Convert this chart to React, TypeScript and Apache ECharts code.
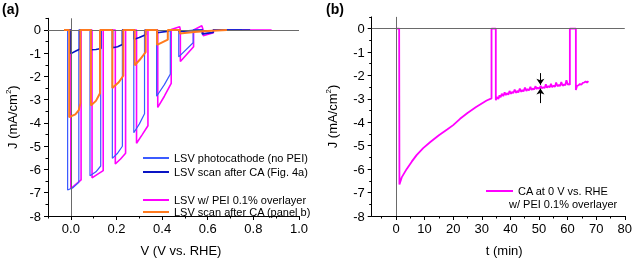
import React, { useEffect, useRef } from "react";
import * as echarts from "echarts";

// ---------- Panel (a): chopped LSV, [V vs RHE, J mA/cm2] ----------
const lsvNoPei: [number, number][] = [
  [-0.03, 0], [-0.014, 0], [-0.014, -6.88], [0.01, -6.78], [0.035, -6.55], [0.035, 0],
  [0.084, 0], [0.084, -6.27], [0.11, -6.1], [0.131, -5.85], [0.131, 0],
  [0.182, 0], [0.182, -5.52], [0.205, -5.3], [0.226, -5.0], [0.226, 0],
  [0.276, 0], [0.276, -4.42], [0.3, -4.05], [0.323, -3.6], [0.323, 0],
  [0.376, 0], [0.376, -2.85], [0.41, -2.35], [0.436, -1.9], [0.436, 0],
  [0.473, 0], [0.473, -1.16], [0.536, -0.55], [0.536, 0],
  [0.575, 0], [0.575, -0.18], [0.624, -0.1], [0.624, 0],
  [0.75, 0],
];
const lsvAfterCa4a: [number, number][] = [
  [-0.03, 0], [0.0, 0], [0.0, -1.02], [0.02, -0.92], [0.04, -0.82], [0.04, 0],
  [0.088, 0], [0.088, -0.85], [0.11, -0.84], [0.132, -0.8], [0.132, 0],
  [0.183, 0], [0.183, -0.77], [0.205, -0.72], [0.226, -0.63], [0.226, 0],
  [0.278, 0], [0.278, -0.4], [0.3, -0.33], [0.328, -0.21], [0.328, 0],
  [0.378, 0], [0.378, -0.12], [0.43, -0.05], [0.43, 0],
  [0.475, 0], [0.475, -0.07], [0.53, -0.03], [0.53, 0],
  [0.577, 0], [0.577, -0.17], [0.624, -0.11], [0.624, 0],
  [0.786, 0],
];
const lsvPei: [number, number][] = [
  [-0.03, 0], [0.0, 0], [0.0, -6.82], [0.045, -6.45], [0.045, 0],
  [0.093, 0], [0.093, -6.36], [0.118, -6.2], [0.142, -6.05], [0.142, 0],
  [0.195, 0], [0.195, -5.76], [0.218, -5.55], [0.24, -5.3], [0.24, 0],
  [0.288, 0], [0.288, -4.87], [0.313, -4.5], [0.338, -4.12], [0.338, 0],
  [0.381, 0], [0.381, -3.33], [0.41, -2.85], [0.44, -2.3], [0.44, 0.02],
  [0.477, 0.14], [0.48, 0], [0.48, -1.36], [0.538, -0.72], [0.538, 0],
  [0.574, 0.18], [0.58, 0], [0.58, -0.25], [0.625, -0.12], [0.625, 0],
  [0.88, 0],
];
const lsvAfterCaB: [number, number][] = [
  [-0.03, 0], [-0.007, 0], [-0.007, -3.75], [0.02, -3.63], [0.035, -3.45], [0.042, -3.15], [0.042, 0],
  [0.088, 0], [0.088, -3.25], [0.11, -3.05], [0.128, -2.72], [0.128, 0],
  [0.182, 0], [0.182, -2.5], [0.21, -2.25], [0.23, -1.97], [0.23, 0],
  [0.28, 0], [0.28, -1.52], [0.305, -1.25], [0.328, -0.95], [0.328, 0],
  [0.378, 0], [0.378, -0.64], [0.425, -0.42], [0.425, 0],
  [0.477, 0], [0.477, -0.15], [0.54, -0.09], [0.6, -0.05], [0.684, 0],
];

// ---------- Panel (b): CA at 0 V, [t min, J mA/cm2] ----------
const caPei: [number, number][] = [
  [0, 0], [1.1, 0], [1.2, -6.65], [2, -6.35], [3.7, -6.0], [5.5, -5.68], [7.2, -5.4],
  [9.5, -5.1], [12, -4.84], [15, -4.55], [18, -4.3], [20, -4.12], [22.4, -3.85],
  [25, -3.6], [28, -3.35], [31.7, -3.07], [33.4, -2.98],
  [33.4, 0], [34.9, 0], [34.9, -3.06],
  [35.3, -2.92], [35.8, -3.0], [36.2, -2.85], [36.6, -2.93], [37.0, -2.78], [37.5, -2.88],
  [38.0, -2.72], [38.4, -2.84], [38.8, -2.76], [39.3, -2.82], [39.7, -2.66], [40.2, -2.78],
  [40.6, -2.7], [41.0, -2.76], [41.5, -2.6], [42.0, -2.74], [42.4, -2.66], [42.8, -2.72],
  [43.3, -2.56], [43.8, -2.7], [44.2, -2.62], [44.6, -2.68], [45.1, -2.52], [45.6, -2.66],
  [46.0, -2.58], [46.5, -2.64], [47.0, -2.48], [47.4, -2.62], [47.8, -2.56], [48.3, -2.6],
  [48.8, -2.46], [49.2, -2.58], [49.6, -2.52], [50.1, -2.57], [50.6, -2.44], [51.0, -2.55],
  [51.5, -2.5], [52.0, -2.54], [52.4, -2.38], [52.8, -2.52], [53.3, -2.46], [53.8, -2.5],
  [54.2, -2.36], [54.6, -2.5], [55.1, -2.44], [55.6, -2.48], [56.0, -2.3], [56.5, -2.46],
  [57.0, -2.4], [57.4, -2.45], [57.8, -2.28], [58.3, -2.44], [58.8, -2.38], [59.2, -2.42],
  [59.6, -2.2], [60.1, -2.4], [60.5, -2.36], [60.8, -2.4],
  [60.8, 0], [62.9, 0], [62.9, -2.62],
  [63.3, -2.45], [63.8, -2.42], [64.3, -2.36], [64.8, -2.4], [65.3, -2.32], [65.8, -2.3],
  [66.3, -2.26], [66.8, -2.3], [67.3, -2.24],
];
// error-bar arrows at t = 50.5
const arrowDown: [number, number][] = [[50.5, -1.9], [50.5, -2.4]];
const arrowUp: [number, number][] = [[50.5, -3.18], [50.5, -2.56]];

// ---------- ticks ----------
const vLabels = [0, 0.2, 0.4, 0.6, 0.8, 1.0];
const vMinor = [-0.1, 0.1, 0.3, 0.5, 0.7, 0.9];
const tLabels = [0, 10, 20, 30, 40, 50, 60, 70, 80];
const tMinor = [-5, 5, 15, 25, 35, 45, 55, 65, 75];
const jLabels = [-8, -7, -6, -5, -4, -3, -2, -1, 0];
const jMinor = [-7.5, -6.5, -5.5, -4.5, -3.5, -2.5, -1.5, -0.5, 0.5];

const FONT = "'Liberation Sans', Arial, sans-serif";
const C_NOPEI = "#3b5bff";
const C_CA4A = "#0a14c4";
const C_PEI = "#ff00ff";
const C_ORANGE = "#ff7a1e";

function majorX(grid: number, min: number, max: number, labels: number[], fmt: (v: number) => string, name: string, padLeft: number) {
  return {
    type: "value", gridIndex: grid, min, max, position: "bottom",
    axisLine: { show: true, onZero: false, lineStyle: { color: "#000", width: 1 } },
    axisTick: { show: true, customValues: labels, length: 4, lineStyle: { color: "#000" } },
    axisLabel: { show: true, customValues: labels, formatter: fmt, margin: 6, color: "#000", fontSize: 13, fontFamily: FONT },
    splitLine: { show: false },
    name, nameLocation: "middle", nameGap: 28,
    nameTextStyle: { color: "#000", fontSize: 13, fontFamily: FONT, padding: [0, 0, 0, padLeft] },
  };
}
function minorX(grid: number, min: number, max: number, ticks: number[]) {
  return {
    type: "value", gridIndex: grid, min, max, position: "bottom",
    axisLine: { show: false, onZero: false },
    axisTick: { show: true, customValues: ticks, length: 2.5, lineStyle: { color: "#000" } },
    axisLabel: { show: false },
    splitLine: { show: false },
  };
}
function majorY(grid: number, gap: number) {
  return {
    type: "value", gridIndex: grid, min: -8, max: 0.5, position: "left",
    axisLine: { show: true, onZero: false, lineStyle: { color: "#000", width: 1 } },
    axisTick: { show: true, customValues: jLabels, length: 4, lineStyle: { color: "#000" } },
    axisLabel: { show: true, customValues: jLabels, margin: 7, color: "#000", fontSize: 13, fontFamily: FONT },
    splitLine: { show: false },
    name: "J (mA/cm{sup|2})", nameLocation: "middle", nameGap: gap, nameRotate: 90,
    nameTextStyle: {
      color: "#000", fontSize: 13, fontFamily: FONT, lineHeight: 16,
      rich: { sup: { fontSize: 8, fontFamily: FONT, color: "#000", verticalAlign: "top", lineHeight: 10 } },
    },
  };
}
function minorY(grid: number) {
  return {
    type: "value", gridIndex: grid, min: -8, max: 0.5, position: "left",
    axisLine: { show: false, onZero: false },
    axisTick: { show: true, customValues: jMinor, length: 2.5, lineStyle: { color: "#000" } },
    axisLabel: { show: false },
    splitLine: { show: false },
  };
}

export default function App() {
  const ref = useRef<HTMLDivElement>(null);
  useEffect(() => {
    if (!ref.current) return;
    const chart = echarts.init(ref.current, null, { renderer: "svg" });
    const zeroLine = {
      silent: true, symbol: ["none", "none"], label: { show: false },
      lineStyle: { color: "#6a6a6a", width: 1, type: "solid" },
      data: [{ yAxis: 0 }, { xAxis: 0 }],
    };
    const lineBase = { type: "line", symbol: "none", showSymbol: false, animation: false };
    const legendText = { color: "#000", fontSize: 11, fontFamily: FONT, lineHeight: 12 };
    chart.setOption({
      animation: false,
      textStyle: { fontFamily: FONT },
      grid: [
        { left: 48, top: 18.3, width: 251, height: 203.4 },
        { left: 371.7, top: 16.9, width: 253.3, height: 205.8 },
      ],
      xAxis: [
        majorX(0, -0.1, 1.0, vLabels, (v: number) => v.toFixed(1), "V (V vs. RHE)", 15),
        minorX(0, -0.1, 1.0, vMinor),
        majorX(1, -8.5, 80, tLabels, (v: number) => String(v), "t (min)", 12),
        minorX(1, -8.5, 80, tMinor),
      ],
      yAxis: [majorY(0, 28), minorY(0), majorY(1, 31), minorY(1)],
      legend: [
        {
          data: ["LSV photocathode (no PEI)", "LSV scan after CA (Fig. 4a)"],
          left: 138, top: 147, orient: "vertical", icon: "rect", itemWidth: 26, itemHeight: 2, itemGap: 2,
          textStyle: legendText,
        },
        {
          data: ["LSV w/ PEI 0.1% overlayer", "LSV scan after CA (panel b)"],
          left: 138, top: 189, orient: "vertical", icon: "rect", itemWidth: 26, itemHeight: 2, itemGap: 0,
          textStyle: legendText,
        },
        {
          data: ["CA at 0 V vs. RHE"],
          left: 481, top: 180, icon: "rect", itemWidth: 27, itemHeight: 2,
          textStyle: legendText,
        },
      ],
      graphic: [
        { type: "text", left: 2, top: 2, style: { text: "(a)", font: `bold 14px ${FONT}`, fill: "#000" } },
        { type: "text", left: 326, top: 2, style: { text: "(b)", font: `bold 14px ${FONT}`, fill: "#000" } },
        { type: "text", left: 509, top: 198.5, style: { text: "w/ PEI 0.1% overlayer", font: `11px ${FONT}`, fill: "#000" } },
      ],
      series: [
        {
          ...lineBase, name: "LSV w/ PEI 0.1% overlayer", xAxisIndex: 0, yAxisIndex: 0,
          data: lsvPei, lineStyle: { color: C_PEI, width: 1.6 }, itemStyle: { color: C_PEI },
          markLine: zeroLine, z: 2,
        },
        {
          ...lineBase, name: "LSV photocathode (no PEI)", xAxisIndex: 0, yAxisIndex: 0,
          data: lsvNoPei, lineStyle: { color: C_NOPEI, width: 1.2 }, itemStyle: { color: C_NOPEI }, z: 3,
        },
        {
          ...lineBase, name: "LSV scan after CA (Fig. 4a)", xAxisIndex: 0, yAxisIndex: 0,
          data: lsvAfterCa4a, lineStyle: { color: C_CA4A, width: 1.6 }, itemStyle: { color: C_CA4A }, z: 4,
        },
        {
          ...lineBase, name: "LSV scan after CA (panel b)", xAxisIndex: 0, yAxisIndex: 0,
          data: lsvAfterCaB, lineStyle: { color: C_ORANGE, width: 2 }, itemStyle: { color: C_ORANGE }, z: 5,
        },
        {
          ...lineBase, name: "CA at 0 V vs. RHE", xAxisIndex: 2, yAxisIndex: 2,
          data: caPei, lineStyle: { color: C_PEI, width: 1.8 }, itemStyle: { color: C_PEI }, z: 3,
          markLine: zeroLine,
        },
        {
          type: "lines", coordinateSystem: "cartesian2d", xAxisIndex: 2, yAxisIndex: 2, z: 6,
          symbol: ["none", "arrow"], symbolSize: 6, silent: true,
          lineStyle: { color: "#000", width: 1, opacity: 1 },
          data: [{ coords: arrowDown }, { coords: arrowUp }],
        },
      ],
    });
    return () => chart.dispose();
  }, []);
  return <div ref={ref} style={{ position: "fixed", left: 0, top: 0, width: 635, height: 262 }} />;
}
